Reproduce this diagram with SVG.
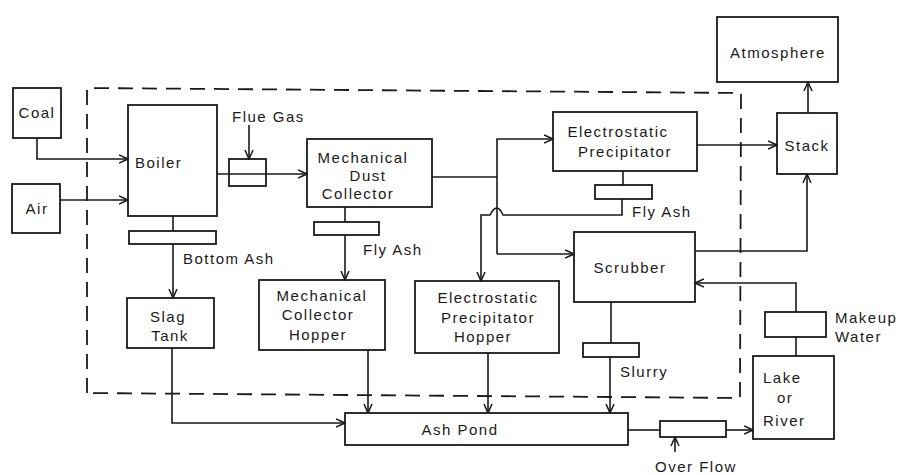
<svg xmlns="http://www.w3.org/2000/svg" width="909" height="475" viewBox="0 0 909 475">
<style>
.b{fill:none;stroke:#1a1a1a;stroke-width:1.8}
.c{fill:none;stroke:#1a1a1a;stroke-width:1.6}
.d{fill:none;stroke:#1a1a1a;stroke-width:1.8;stroke-dasharray:15 9}
text{font-family:"Liberation Sans",Arial,sans-serif;font-size:15px;fill:#1a1a1a;letter-spacing:1.5px}
.m{text-anchor:middle}
</style>
<defs>
<marker id="a" viewBox="0 0 10 10" refX="9" refY="5" markerWidth="10" markerHeight="10" markerUnits="userSpaceOnUse" orient="auto">
<path d="M0,1 L9,5 L0,9" fill="none" stroke="#1a1a1a" stroke-width="1.5"/>
</marker>
</defs>
<rect width="909" height="475" fill="#fff"/>
<path class="d" d="M87,393 L87,88 L741,93 L740,398 Z"/>
<g id="coal"><rect class="b" x="13" y="88" width="48" height="50"/><text class="m" x="37" y="118">Coal</text></g>
<g id="air"><rect class="b" x="12" y="184" width="48" height="49"/><text class="m" x="37" y="214">Air</text></g>
<g id="boiler"><rect class="b" x="128" y="105" width="89" height="111"/><text x="135" y="168">Boiler</text></g>
<g id="flue-gas"><rect class="b" x="229" y="159" width="37" height="27"/><text x="232" y="122">Flue Gas</text></g>
<g id="mdc"><rect class="b" x="307" y="139" width="125" height="68"/><text class="m" x="363" y="163">Mechanical</text><text class="m" x="368" y="181">Dust</text><text class="m" x="358" y="199">Collector</text></g>
<g id="mdc-flyash"><rect class="b" x="314" y="222" width="65" height="13"/><text x="363" y="255">Fly Ash</text></g>
<g id="bottom-ash"><rect class="b" x="129" y="231" width="87" height="13"/><text x="183" y="264">Bottom Ash</text></g>
<g id="slag-tank"><rect class="b" x="127" y="298" width="87" height="50"/><text class="m" x="168" y="322">Slag</text><text class="m" x="170" y="341">Tank</text></g>
<g id="mch"><rect class="b" x="259" y="280" width="126" height="70"/><text class="m" x="322" y="301">Mechanical</text><text class="m" x="318" y="320">Collector</text><text class="m" x="318" y="340">Hopper</text></g>
<g id="esph"><rect class="b" x="415" y="281" width="144" height="72"/><text class="m" x="488" y="303">Electrostatic</text><text class="m" x="488" y="323">Precipitator</text><text class="m" x="483" y="342">Hopper</text></g>
<g id="esp"><rect class="b" x="553" y="112" width="144" height="59"/><text class="m" x="618" y="137">Electrostatic</text><text class="m" x="625" y="157">Precipitator</text></g>
<g id="esp-flyash"><rect class="b" x="595" y="185" width="57" height="14"/><text x="632" y="217">Fly Ash</text></g>
<g id="stack"><rect class="b" x="777" y="113" width="60" height="61"/><text class="m" x="807" y="151">Stack</text></g>
<g id="atmosphere"><rect class="b" x="717" y="17" width="121" height="65"/><text class="m" x="778" y="58">Atmosphere</text></g>
<g id="scrubber"><rect class="b" x="574" y="232" width="121" height="70"/><text class="m" x="630" y="273">Scrubber</text></g>
<g id="makeup"><rect class="b" x="765" y="312" width="61" height="25"/><text x="835" y="323">Makeup</text><text x="835" y="342">Water</text></g>
<g id="lake"><rect class="b" x="753" y="356" width="81" height="83"/><text x="763" y="383">Lake</text><text x="777" y="403">or</text><text x="763" y="426">River</text></g>
<g id="slurry"><rect class="b" x="583" y="343" width="56" height="14"/><text x="620" y="377">Slurry</text></g>
<g id="ash-pond"><rect class="b" x="345" y="413" width="283" height="32"/><text class="m" x="460" y="435">Ash Pond</text></g>
<g id="overflow"><rect class="b" x="660" y="421" width="66" height="16"/><text x="655" y="472">Over Flow</text></g>
<g id="connectors">
<path class="c" marker-end="url(#a)" d="M37,138 V159 H128"/>
<path class="c" marker-end="url(#a)" d="M60,200 H128"/>
<path class="c" marker-end="url(#a)" d="M217,174 H307"/>
<path class="c" marker-end="url(#a)" d="M249,125 V159"/>
<path class="c" d="M173,216 V231"/>
<path class="c" marker-end="url(#a)" d="M173,244 V298"/>
<path class="c" d="M345,207 V222"/>
<path class="c" marker-end="url(#a)" d="M345,235 V280"/>
<path class="c" marker-end="url(#a)" d="M172,348 V423 H345"/>
<path class="c" marker-end="url(#a)" d="M368,350 V413"/>
<path class="c" marker-end="url(#a)" d="M488,353 V413"/>
<path class="c" d="M432,177 H497"/>
<path class="c" marker-end="url(#a)" d="M497,254 V139 H553"/>
<path class="c" marker-end="url(#a)" d="M497,254 H574"/>
<path class="c" d="M623,171 V185"/>
<path class="c" marker-end="url(#a)" d="M622,199 V215 H503 Q497,201 490,215 H481 V281"/>
<path class="c" marker-end="url(#a)" d="M697,145 H777"/>
<path class="c" marker-end="url(#a)" d="M808,113 V82"/>
<path class="c" marker-end="url(#a)" d="M695,251 H807 V174"/>
<path class="c" marker-end="url(#a)" d="M796,312 V283 H695"/>
<path class="c" d="M796,337 V356"/>
<path class="c" d="M611,302 V343"/>
<path class="c" marker-end="url(#a)" d="M610,357 V413"/>
<path class="c" d="M628,430 H660"/>
<path class="c" marker-end="url(#a)" d="M726,430 H753"/>
<path class="c" marker-end="url(#a)" d="M675,452 V437"/>
</g>
</svg>
